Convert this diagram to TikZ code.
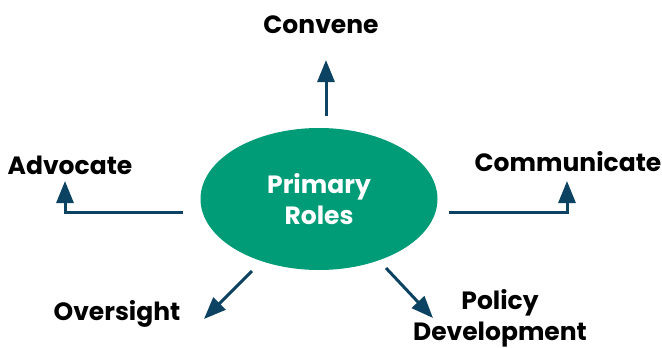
\documentclass[tikz,border=0pt]{standalone}
\usepackage{fontspec}
\setmainfont{Poppins}
\usetikzlibrary{arrows.meta,shapes.geometric,positioning}
\definecolor{rolegreen}{HTML}{009B77}
\definecolor{linkblue}{HTML}{0C4262}
\tikzset{
    role/.style={font=\fontsize{25}{31}\selectfont\bfseries, align=center, inner sep=0pt},
    link/.style={draw=linkblue, line width=3pt, -{Triangle[length=22pt,width=17pt]}}
}

\begin{document}
\begin{tikzpicture}[x=1pt,y=-1pt]
    \useasboundingbox (0,0) rectangle (662,348);

    \node[role, ellipse, fill=rolegreen, text=white, minimum width=237pt, minimum height=142pt] (roles) at (319,199) {Primary\\Roles};

    \node[role] (convene) at (321,25) {Convene};
    \node[role] (advocate) at (70,165) {Advocate};
    \node[role] (communicate) at (568,162) {Communicate};
    \node[role] (oversight) at (117,314) {Oversight};
    \node[role] (policy) at (500,318) {Policy\\Development};

    % arrow ends, kept off the ellipse and the labels
    \coordinate (up from) at (326,116);
    \coordinate (up to) at (326,60);
    \coordinate (left from) at (183,212);
    \coordinate (left to) at (65,181);
    \coordinate (right from) at (449,212);
    \coordinate (right to) at (567,181);
    \coordinate (down left from) at (252,271);
    \coordinate (down left to) at (204,319);
    \coordinate (down right from) at (386,268);
    \coordinate (down right to) at (433,318);

    \draw[link] (up from) -- (up to);
    \draw[link] (left from) -| (left to);
    \draw[link] (right from) -| (right to);
    \draw[link] (down left from) -- (down left to);
    \draw[link] (down right from) -- (down right to);
\end{tikzpicture}
\end{document}
